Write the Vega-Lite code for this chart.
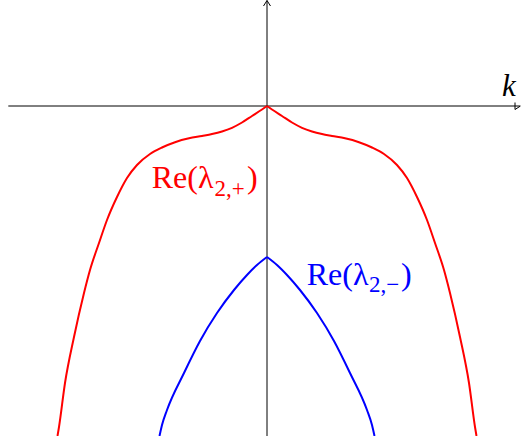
{
  "$schema": "https://vega.github.io/schema/vega-lite/v6.json",
  "width": 522,
  "height": 436,
  "autosize": "none",
  "padding": 0,
  "background": "white",
  "config": {"view": {"stroke": null}},
  "datasets": {
    "curves": [
      {"curve": "plus", "side": "R", "k": 0.0, "y": 0.0},
      {"curve": "plus", "side": "R", "k": 0.05, "y": -0.035},
      {"curve": "plus", "side": "R", "k": 0.15, "y": -0.10},
      {"curve": "plus", "side": "R", "k": 0.25, "y": -0.165},
      {"curve": "plus", "side": "R", "k": 0.35, "y": -0.218},
      {"curve": "plus", "side": "R", "k": 0.45, "y": -0.255},
      {"curve": "plus", "side": "R", "k": 0.55, "y": -0.281},
      {"curve": "plus", "side": "R", "k": 0.65, "y": -0.300},
      {"curve": "plus", "side": "R", "k": 0.78, "y": -0.323},
      {"curve": "plus", "side": "R", "k": 0.92, "y": -0.362},
      {"curve": "plus", "side": "R", "k": 1.05, "y": -0.415},
      {"curve": "plus", "side": "R", "k": 1.17, "y": -0.48},
      {"curve": "plus", "side": "R", "k": 1.30, "y": -0.59},
      {"curve": "plus", "side": "R", "k": 1.40, "y": -0.72},
      {"curve": "plus", "side": "R", "k": 1.50, "y": -0.91},
      {"curve": "plus", "side": "R", "k": 1.60, "y": -1.14},
      {"curve": "plus", "side": "R", "k": 1.68, "y": -1.37},
      {"curve": "plus", "side": "R", "k": 1.77, "y": -1.64},
      {"curve": "plus", "side": "R", "k": 1.83, "y": -1.87},
      {"curve": "plus", "side": "R", "k": 1.93, "y": -2.31},
      {"curve": "plus", "side": "R", "k": 2.02, "y": -2.77},
      {"curve": "plus", "side": "R", "k": 2.08, "y": -3.21},
      {"curve": "plus", "side": "R", "k": 2.095, "y": -3.30},
      {"curve": "plus", "side": "L", "k": 0.0, "y": 0.0},
      {"curve": "plus", "side": "L", "k": -0.05, "y": -0.035},
      {"curve": "plus", "side": "L", "k": -0.15, "y": -0.10},
      {"curve": "plus", "side": "L", "k": -0.25, "y": -0.165},
      {"curve": "plus", "side": "L", "k": -0.35, "y": -0.218},
      {"curve": "plus", "side": "L", "k": -0.45, "y": -0.255},
      {"curve": "plus", "side": "L", "k": -0.55, "y": -0.281},
      {"curve": "plus", "side": "L", "k": -0.65, "y": -0.300},
      {"curve": "plus", "side": "L", "k": -0.78, "y": -0.323},
      {"curve": "plus", "side": "L", "k": -0.92, "y": -0.362},
      {"curve": "plus", "side": "L", "k": -1.05, "y": -0.415},
      {"curve": "plus", "side": "L", "k": -1.17, "y": -0.48},
      {"curve": "plus", "side": "L", "k": -1.30, "y": -0.59},
      {"curve": "plus", "side": "L", "k": -1.40, "y": -0.72},
      {"curve": "plus", "side": "L", "k": -1.50, "y": -0.91},
      {"curve": "plus", "side": "L", "k": -1.60, "y": -1.14},
      {"curve": "plus", "side": "L", "k": -1.68, "y": -1.37},
      {"curve": "plus", "side": "L", "k": -1.77, "y": -1.64},
      {"curve": "plus", "side": "L", "k": -1.83, "y": -1.87},
      {"curve": "plus", "side": "L", "k": -1.93, "y": -2.31},
      {"curve": "plus", "side": "L", "k": -2.02, "y": -2.77},
      {"curve": "plus", "side": "L", "k": -2.08, "y": -3.21},
      {"curve": "plus", "side": "L", "k": -2.095, "y": -3.30},
      {"curve": "minus", "side": "R", "k": 0.0, "y": -1.51},
      {"curve": "minus", "side": "R", "k": 0.10, "y": -1.59},
      {"curve": "minus", "side": "R", "k": 0.20, "y": -1.69},
      {"curve": "minus", "side": "R", "k": 0.33, "y": -1.84},
      {"curve": "minus", "side": "R", "k": 0.50, "y": -2.07},
      {"curve": "minus", "side": "R", "k": 0.67, "y": -2.35},
      {"curve": "minus", "side": "R", "k": 0.83, "y": -2.67},
      {"curve": "minus", "side": "R", "k": 1.00, "y": -3.04},
      {"curve": "minus", "side": "R", "k": 1.05, "y": -3.19},
      {"curve": "minus", "side": "R", "k": 1.075, "y": -3.30},
      {"curve": "minus", "side": "L", "k": 0.0, "y": -1.51},
      {"curve": "minus", "side": "L", "k": -0.10, "y": -1.59},
      {"curve": "minus", "side": "L", "k": -0.20, "y": -1.69},
      {"curve": "minus", "side": "L", "k": -0.33, "y": -1.84},
      {"curve": "minus", "side": "L", "k": -0.50, "y": -2.07},
      {"curve": "minus", "side": "L", "k": -0.67, "y": -2.35},
      {"curve": "minus", "side": "L", "k": -0.83, "y": -2.67},
      {"curve": "minus", "side": "L", "k": -1.00, "y": -3.04},
      {"curve": "minus", "side": "L", "k": -1.05, "y": -3.19},
      {"curve": "minus", "side": "L", "k": -1.075, "y": -3.30}
    ],
    "hAxis": [{"k": -2.587, "k2": 2.53, "y": 0}],
    "vAxis": [{"k": 0, "y": -3.30, "y2": 1.055}],
    "arrows": [
      {"arrow": "right", "k": 2.48, "y": 0.035},
      {"arrow": "right", "k": 2.535, "y": 0.0},
      {"arrow": "right", "k": 2.48, "y": -0.035},
      {"arrow": "up", "k": -0.035, "y": 1.0},
      {"arrow": "up", "k": 0.0, "y": 1.055},
      {"arrow": "up", "k": 0.035, "y": 1.0}
    ],
    "labels": [
      {"text": "Re(λ", "k": -1.153, "y": -0.823, "color": "red", "size": 32},
      {"text": "2,+", "k": -0.525, "y": -0.90, "color": "red", "size": 23},
      {"text": ")", "k": -0.20, "y": -0.823, "color": "red", "size": 32},
      {"text": "Re(λ", "k": 0.397, "y": -1.79, "color": "blue", "size": 32},
      {"text": "2,−", "k": 1.02, "y": -1.86, "color": "blue", "size": 23},
      {"text": ")", "k": 1.34, "y": -1.79, "color": "blue", "size": 32}
    ],
    "axisLabel": [{"text": "k", "k": 2.35, "y": 0.10}]
  },
  "encoding": {
    "x": {"field": "k", "type": "quantitative", "scale": {"domain": [-2.67, 2.55], "nice": false, "zero": false}, "axis": null},
    "y": {"field": "y", "type": "quantitative", "scale": {"domain": [-3.30, 1.06], "nice": false, "zero": false}, "axis": null}
  },
  "layer": [
    {
      "data": {"name": "hAxis"},
      "mark": {"type": "rule", "color": "black", "strokeWidth": 1},
      "encoding": {
        "x2": {"field": "k2"}
      }
    },
    {
      "data": {"name": "vAxis"},
      "mark": {"type": "rule", "color": "black", "strokeWidth": 1},
      "encoding": {
        "y2": {"field": "y2"}
      }
    },
    {
      "data": {"name": "arrows"},
      "mark": {"type": "line", "color": "black", "strokeWidth": 1},
      "encoding": {
        "detail": {"field": "arrow"}
      }
    },
    {
      "data": {"name": "curves"},
      "mark": {"type": "line", "strokeWidth": 2, "interpolate": "monotone", "clip": true},
      "encoding": {
        "detail": {"field": "side"},
        "color": {"field": "curve", "type": "nominal", "scale": {"domain": ["plus", "minus"], "range": ["red", "blue"]}, "legend": null}
      }
    },
    {
      "data": {"name": "labels"},
      "mark": {"type": "text", "font": "Liberation Serif", "align": "left", "baseline": "alphabetic"},
      "encoding": {
        "text": {"field": "text"},
        "size": {"field": "size", "type": "quantitative", "scale": null, "legend": null},
        "color": {"field": "color", "type": "nominal", "scale": null, "legend": null}
      }
    },
    {
      "data": {"name": "axisLabel"},
      "mark": {"type": "text", "font": "Liberation Serif", "fontStyle": "italic", "fontSize": 31, "align": "left", "baseline": "alphabetic", "color": "black"},
      "encoding": {
        "text": {"field": "text"}
      }
    }
  ]
}
